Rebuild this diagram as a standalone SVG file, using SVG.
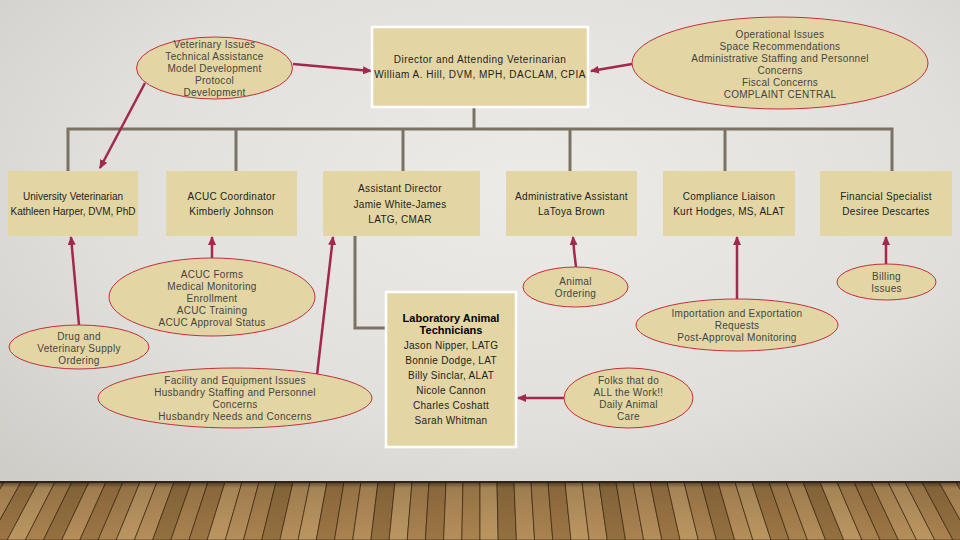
<svg xmlns="http://www.w3.org/2000/svg" width="960" height="540" viewBox="0 0 960 540">
<defs>
<radialGradient id="bg" cx="0.55" cy="0.35" r="0.75">
<stop offset="0" stop-color="#ecebe8"/>
<stop offset="0.6" stop-color="#e0dfdb"/>
<stop offset="1" stop-color="#cfcdc8"/>
</radialGradient>
<linearGradient id="floorShade" x1="0" y1="0" x2="0" y2="1">
<stop offset="0" stop-color="#000" stop-opacity="0.5"/>
<stop offset="0.1" stop-color="#000" stop-opacity="0.12"/>
<stop offset="1" stop-color="#000" stop-opacity="0"/>
</linearGradient>
<marker id="ah" markerWidth="9" markerHeight="8" refX="8" refY="4" orient="auto" markerUnits="userSpaceOnUse">
<path d="M0,0 L9,4 L0,8 Z" fill="#a3284c"/>
</marker>
<style>
.box{fill:#e3d6a4}
.wbox{fill:#e3d6a4;stroke:#ffffff;stroke-width:2.5}
.ell{fill:#e3d6a4;stroke:#c2303e;stroke-width:1}
.tree{fill:none;stroke:#7b7264;stroke-width:3}
.arr{fill:none;stroke:#a3284c;stroke-width:2.5;marker-end:url(#ah)}
text{font-family:"Liberation Sans",Arial,sans-serif;font-size:10px;text-anchor:middle;letter-spacing:0.3px}
.bt{fill:#222}
.dt{fill:#222;letter-spacing:0.5px}
.et{fill:#444}
.bold{font-weight:bold;font-size:11px;letter-spacing:0;fill:#000}
#floor polygon{stroke:#3e2a16;stroke-width:0.7}
.p0{fill:#a9824f}.p1{fill:#9c7544}.p2{fill:#b58e5a}.p3{fill:#947040}.p4{fill:#bb9661}
</style>
</defs>
<rect x="0" y="0" width="960" height="540" fill="url(#bg)"/>
<g id="floor">
<rect x="0" y="482" width="960" height="58" fill="#a57e4c"/>
<polygon class="p0" points="-13,482 4,482 -29.3,540 -47.5,540"/>
<polygon class="p2" points="4,482 21,482 -11.1,540 -29.3,540"/>
<polygon class="p1" points="21,482 38,482 7.1,540 -11.1,540"/>
<polygon class="p4" points="38,482 55,482 25.3,540 7.1,540"/>
<polygon class="p0" points="55,482 72,482 43.4,540 25.3,540"/>
<polygon class="p3" points="72,482 89,482 61.6,540 43.4,540"/>
<polygon class="p2" points="89,482 106,482 79.8,540 61.6,540"/>
<polygon class="p1" points="106,482 123,482 98,540 79.8,540"/>
<polygon class="p0" points="123,482 140,482 116.2,540 98,540"/>
<polygon class="p4" points="140,482 157,482 134.4,540 116.2,540"/>
<polygon class="p2" points="157,482 174,482 152.6,540 134.4,540"/>
<polygon class="p3" points="174,482 191,482 170.8,540 152.6,540"/>
<polygon class="p0" points="191,482 208,482 189,540 170.8,540"/>
<polygon class="p1" points="208,482 225,482 207.2,540 189,540"/>
<polygon class="p4" points="225,482 242,482 225.3,540 207.2,540"/>
<polygon class="p2" points="242,482 259,482 243.5,540 225.3,540"/>
<polygon class="p0" points="259,482 276,482 261.7,540 243.5,540"/>
<polygon class="p3" points="276,482 293,482 279.9,540 261.7,540"/>
<polygon class="p2" points="293,482 310,482 298.1,540 279.9,540"/>
<polygon class="p4" points="310,482 327,482 316.3,540 298.1,540"/>
<polygon class="p1" points="327,482 344,482 334.5,540 316.3,540"/>
<polygon class="p0" points="344,482 361,482 352.7,540 334.5,540"/>
<polygon class="p2" points="361,482 378,482 370.9,540 352.7,540"/>
<polygon class="p3" points="378,482 395,482 389.1,540 370.9,540"/>
<polygon class="p4" points="395,482 412,482 407.2,540 389.1,540"/>
<polygon class="p0" points="412,482 429,482 425.4,540 407.2,540"/>
<polygon class="p1" points="429,482 446,482 443.6,540 425.4,540"/>
<polygon class="p2" points="446,482 463,482 461.8,540 443.6,540"/>
<polygon class="p0" points="463,482 480,482 480,540 461.8,540"/>
<polygon class="p4" points="480,482 497,482 498.2,540 480,540"/>
<polygon class="p3" points="497,482 514,482 516.4,540 498.2,540"/>
<polygon class="p2" points="514,482 531,482 534.6,540 516.4,540"/>
<polygon class="p0" points="531,482 548,482 552.8,540 534.6,540"/>
<polygon class="p1" points="548,482 565,482 571,540 552.8,540"/>
<polygon class="p4" points="565,482 582,482 589.1,540 571,540"/>
<polygon class="p2" points="582,482 599,482 607.3,540 589.1,540"/>
<polygon class="p3" points="599,482 616,482 625.5,540 607.3,540"/>
<polygon class="p0" points="616,482 633,482 643.7,540 625.5,540"/>
<polygon class="p2" points="633,482 650,482 661.9,540 643.7,540"/>
<polygon class="p1" points="650,482 667,482 680.1,540 661.9,540"/>
<polygon class="p4" points="667,482 684,482 698.3,540 680.1,540"/>
<polygon class="p0" points="684,482 701,482 716.5,540 698.3,540"/>
<polygon class="p3" points="701,482 718,482 734.7,540 716.5,540"/>
<polygon class="p2" points="718,482 735,482 752.9,540 734.7,540"/>
<polygon class="p4" points="735,482 752,482 771,540 752.9,540"/>
<polygon class="p1" points="752,482 769,482 789.2,540 771,540"/>
<polygon class="p0" points="769,482 786,482 807.4,540 789.2,540"/>
<polygon class="p2" points="786,482 803,482 825.6,540 807.4,540"/>
<polygon class="p3" points="803,482 820,482 843.8,540 825.6,540"/>
<polygon class="p4" points="820,482 837,482 862,540 843.8,540"/>
<polygon class="p0" points="837,482 854,482 880.2,540 862,540"/>
<polygon class="p1" points="854,482 871,482 898.4,540 880.2,540"/>
<polygon class="p2" points="871,482 888,482 916.6,540 898.4,540"/>
<polygon class="p4" points="888,482 905,482 934.8,540 916.6,540"/>
<polygon class="p0" points="905,482 922,482 953,540 934.8,540"/>
<polygon class="p3" points="922,482 939,482 971.2,540 953,540"/>
<polygon class="p2" points="939,482 956,482 989.3,540 971.2,540"/>
<polygon class="p1" points="956,482 973,482 1007.5,540 989.3,540"/>
<rect x="0" y="482" width="960" height="58" fill="url(#floorShade)"/>
<rect x="0" y="481" width="960" height="2" fill="#2e2418"/>
</g>
<g id="connectors">
<polyline class="tree" points="474,107 474,129"/>
<polyline class="tree" points="68,171 68,129 892,129 892,171"/>
<line class="tree" x1="236" y1="129" x2="236" y2="171"/>
<line class="tree" x1="403" y1="129" x2="403" y2="171"/>
<line class="tree" x1="570" y1="129" x2="570" y2="171"/>
<line class="tree" x1="725" y1="129" x2="725" y2="171"/>
<polyline class="tree" points="355,236 355,328 386,328"/>
<line class="arr" x1="293" y1="64" x2="371" y2="71"/>
<line class="arr" x1="632" y1="64" x2="591" y2="71"/>
<line class="arr" x1="145" y1="83" x2="100" y2="168"/>
<line class="arr" x1="79" y1="325" x2="71" y2="237"/>
<line class="arr" x1="212" y1="258" x2="212" y2="237"/>
<line class="arr" x1="317" y1="375" x2="333" y2="237"/>
<polyline class="arr" points="576,267 574,250 573,237"/>
<line class="arr" x1="737" y1="299" x2="737" y2="237"/>
<line class="arr" x1="886" y1="264" x2="886" y2="237"/>
<line class="arr" x1="564" y1="398" x2="518" y2="398"/>
</g>
<g id="director">
<rect class="wbox" x="372" y="27" width="216" height="80"/>
<text class="dt" x="480" y="63">Director and Attending Veterinarian</text>
<text class="dt" x="480" y="78">William A. Hill, DVM, MPH, DACLAM, CPIA</text>
</g>
<g id="vet-issues">
<ellipse class="ell" cx="214.5" cy="68" rx="78" ry="31"/>
<text class="et" x="214.5" y="48">Veterinary Issues</text>
<text class="et" x="214.5" y="60">Technical Assistance</text>
<text class="et" x="214.5" y="72">Model Development</text>
<text class="et" x="214.5" y="84">Protocol</text>
<text class="et" x="214.5" y="96">Development</text>
</g>
<g id="operational-issues">
<ellipse class="ell" cx="780" cy="63" rx="148" ry="46"/>
<text class="et" x="780" y="38">Operational Issues</text>
<text class="et" x="780" y="50">Space Recommendations</text>
<text class="et" x="780" y="62">Administrative Staffing and Personnel</text>
<text class="et" x="780" y="74">Concerns</text>
<text class="et" x="780" y="86">Fiscal Concerns</text>
<text class="et" x="780" y="98">COMPLAINT CENTRAL</text>
</g>
<g id="univ-vet">
<rect class="box" x="8" y="171" width="130" height="65"/>
<text class="bt" x="73" y="200" style="letter-spacing:0">University Veterinarian</text>
<text class="bt" x="73" y="215" style="letter-spacing:0">Kathleen Harper, DVM, PhD</text>
</g>
<g id="acuc-coord">
<rect class="box" x="166" y="171" width="131" height="65"/>
<text class="bt" x="231.5" y="200">ACUC Coordinator</text>
<text class="bt" x="231.5" y="215">Kimberly Johnson</text>
</g>
<g id="asst-director">
<rect class="box" x="323" y="171" width="157" height="65"/>
<text class="bt" x="400" y="192">Assistant Director</text>
<text class="bt" x="400" y="208">Jamie White-James</text>
<text class="bt" x="400" y="223">LATG, CMAR</text>
</g>
<g id="admin-asst">
<rect class="box" x="506" y="171" width="131" height="65"/>
<text class="bt" x="571.5" y="200">Administrative Assistant</text>
<text class="bt" x="571.5" y="215">LaToya Brown</text>
</g>
<g id="compliance">
<rect class="box" x="663" y="171" width="132" height="65"/>
<text class="bt" x="729" y="200">Compliance Liaison</text>
<text class="bt" x="729" y="215">Kurt Hodges, MS, ALAT</text>
</g>
<g id="financial">
<rect class="box" x="820" y="171" width="132" height="65"/>
<text class="bt" x="886" y="200">Financial Specialist</text>
<text class="bt" x="886" y="215">Desiree Descartes</text>
</g>
<g id="acuc-forms">
<ellipse class="ell" cx="212" cy="297" rx="103" ry="39"/>
<text class="et" x="212" y="278">ACUC Forms</text>
<text class="et" x="212" y="290">Medical Monitoring</text>
<text class="et" x="212" y="302">Enrollment</text>
<text class="et" x="212" y="314">ACUC Training</text>
<text class="et" x="212" y="326">ACUC Approval Status</text>
</g>
<g id="drug-ordering">
<ellipse class="ell" cx="79" cy="347" rx="70" ry="22"/>
<text class="et" x="79" y="340">Drug and</text>
<text class="et" x="79" y="352">Veterinary Supply</text>
<text class="et" x="79" y="364">Ordering</text>
</g>
<g id="facility">
<ellipse class="ell" cx="235" cy="398" rx="137" ry="30"/>
<text class="et" x="235" y="384">Facility and Equipment Issues</text>
<text class="et" x="235" y="396">Husbandry Staffing and Personnel</text>
<text class="et" x="235" y="408">Concerns</text>
<text class="et" x="235" y="420">Husbandry Needs and Concerns</text>
</g>
<g id="lab-techs">
<rect class="wbox" x="386" y="292" width="130" height="155"/>
<text class="bold" x="451" y="322">Laboratory Animal</text>
<text class="bold" x="451" y="334">Technicians</text>
<text class="bt" x="451" y="349">Jason Nipper, LATG</text>
<text class="bt" x="451" y="364">Bonnie Dodge, LAT</text>
<text class="bt" x="451" y="379">Billy Sinclar, ALAT</text>
<text class="bt" x="451" y="394">Nicole Cannon</text>
<text class="bt" x="451" y="409">Charles Coshatt</text>
<text class="bt" x="451" y="424">Sarah Whitman</text>
</g>
<g id="animal-ordering">
<ellipse class="ell" cx="575.5" cy="287" rx="52.5" ry="20"/>
<text class="et" x="575.5" y="285">Animal</text>
<text class="et" x="575.5" y="297">Ordering</text>
</g>
<g id="import-export">
<ellipse class="ell" cx="737" cy="325" rx="101" ry="26"/>
<text class="et" x="737" y="317">Importation and Exportation</text>
<text class="et" x="737" y="329">Requests</text>
<text class="et" x="737" y="341">Post-Approval Monitoring</text>
</g>
<g id="billing">
<ellipse class="ell" cx="886.5" cy="282" rx="49.5" ry="18"/>
<text class="et" x="886.5" y="280">Billing</text>
<text class="et" x="886.5" y="292">Issues</text>
</g>
<g id="folks">
<ellipse class="ell" cx="628.5" cy="398" rx="64.5" ry="30"/>
<text class="et" x="628.5" y="384">Folks that do</text>
<text class="et" x="628.5" y="396">ALL the Work!!</text>
<text class="et" x="628.5" y="408">Daily Animal</text>
<text class="et" x="628.5" y="420">Care</text>
</g>
</svg>
